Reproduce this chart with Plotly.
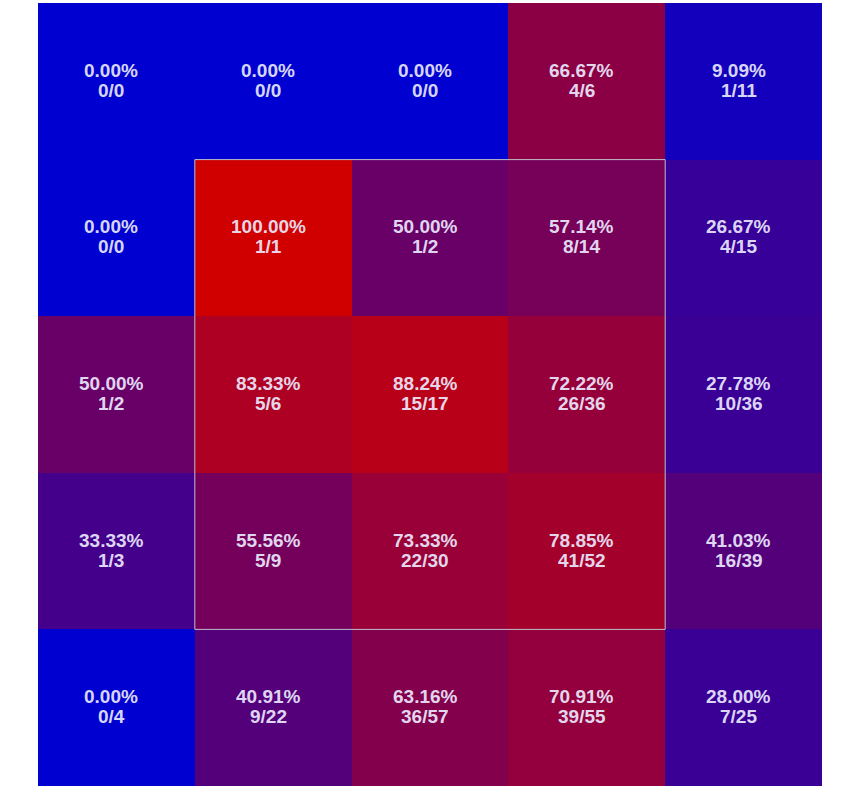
import plotly.graph_objects as go
import numpy as np

cols = ["c0", "c1", "c2", "c3", "c4"]
rows = ["r0", "r1", "r2", "r3", "r4"]
hits = [
    [0, 0, 0, 4, 1],
    [0, 1, 1, 8, 4],
    [1, 5, 15, 26, 10],
    [1, 5, 22, 41, 16],
    [0, 9, 36, 39, 7],
]
totals = [
    [0, 0, 0, 6, 11],
    [0, 1, 2, 14, 15],
    [2, 6, 17, 36, 36],
    [3, 9, 30, 52, 39],
    [4, 22, 57, 55, 25],
]

h = np.array(hits, dtype=float)
t = np.array(totals, dtype=float)
pct = np.where(t > 0, h / np.where(t > 0, t, 1), 0.0)

fig = go.Figure(go.Heatmap(
    z=pct, x=list(range(5)), y=list(range(5)),
    zmin=0, zmax=1,
    colorscale=[[0, "rgb(0,0,208)"], [1, "rgb(208,0,0)"]],
    showscale=False, xgap=0, ygap=0, hoverinfo="skip",
))

font = dict(family="Liberation Sans, Arial, sans-serif", size=19, color="rgba(236,236,255,0.92)")
for i in range(5):
    for j in range(5):
        fig.add_annotation(x=j, y=i, xref="x", yref="y", showarrow=False,
                           text=f"<b>{pct[i][j]*100:.2f}%</b>", font=font, yshift=11, xshift=-5)
        fig.add_annotation(x=j, y=i, xref="x", yref="y", showarrow=False,
                           text=f"<b>{hits[i][j]}/{totals[i][j]}</b>", font=font, yshift=-9, xshift=-5)

fig.add_shape(type="rect", x0=0.5, x1=3.5, y0=0.5, y1=3.5, xref="x", yref="y",
              line=dict(color="rgb(190,190,200)", width=1))

fig.update_xaxes(visible=False, range=[-0.5, 4.5])
fig.update_yaxes(visible=False, range=[4.5, -0.5])
fig.update_layout(width=850, height=789, margin=dict(l=38, r=28, t=3, b=3),
                  paper_bgcolor="white", plot_bgcolor="white")
fig.write_html("out.html")
